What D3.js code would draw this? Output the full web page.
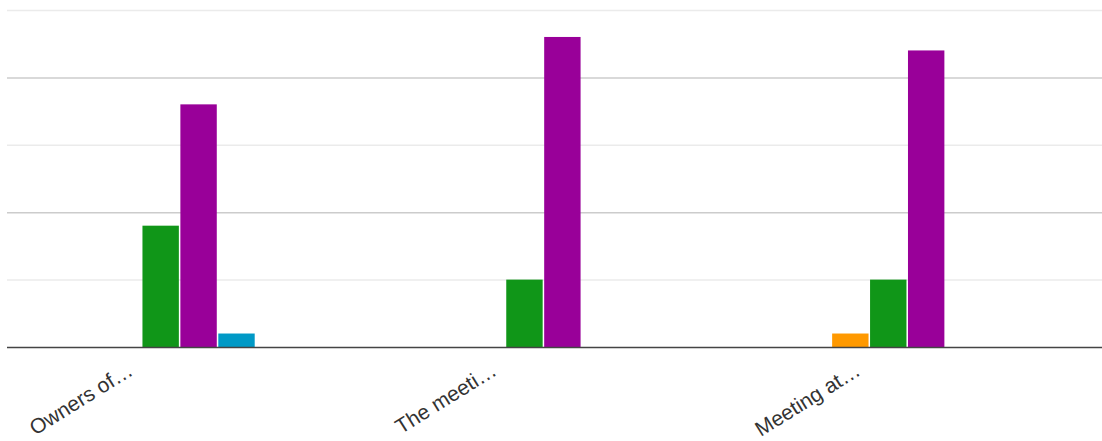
<!DOCTYPE html>
<html>
<head>
<meta charset="utf-8">
<script src="https://cdn.jsdelivr.net/npm/d3@7"></script>
<style>
  html, body { margin: 0; padding: 0; background: #fff; }
  svg { display: block; }
</style>
</head>
<body>
<svg id="chart" width="1102" height="441"></svg>
<script>
// Question rows (truncated as shown on the axis)
const categories = ["Owners of…", "The meeti…", "Meeting at…"];

// Answer options, one series each (count of responses per row)
const seriesNames = ["Option 1", "Option 2", "Option 3", "Option 4", "Option 5", "Option 6"];
const option1 = [0, 0, 0];
const option2 = [0, 0, 0];
const option3 = [0, 0, 1];
const option4 = [9, 5, 5];
const option5 = [18, 23, 22];
const option6 = [1, 0, 0];
const seriesValues = [option1, option2, option3, option4, option5, option6];
const seriesColors = ["#3366cc", "#dc3912", "#ff9900", "#109618", "#990099", "#0099c6"];

// Value axis gridlines
const majorTicks = [0, 10, 20];
const minorTicks = [5, 15, 25];

const svg = d3.select("#chart");
const plot = { left: 7, right: 1102, top: 10, bottom: 347 };

const y = d3.scaleLinear().domain([0, 25]).range([plot.bottom, plot.top]);

// Category centres along the horizontal axis
const x = d3.scalePoint().domain(categories).range([141.7, 869.3]);
const inner = d3.scaleBand().domain(seriesNames).range([-113, 113]).paddingInner(0.04);

// Minor gridlines
svg.append("g").selectAll("line").data(minorTicks).join("line")
  .attr("x1", plot.left).attr("x2", plot.right)
  .attr("y1", d => y(d) + 0.5).attr("y2", d => y(d) + 0.5)
  .attr("stroke", "#ebebeb").attr("stroke-width", 1.5);

// Major gridlines (baseline drawn separately)
svg.append("g").selectAll("line").data(majorTicks.filter(d => d !== 0)).join("line")
  .attr("x1", plot.left).attr("x2", plot.right)
  .attr("y1", d => y(d) + 0.5).attr("y2", d => y(d) + 0.5)
  .attr("stroke", "#cccccc").attr("stroke-width", 1.5);

// Bars
const rows = categories.map((c, i) => ({
  category: c,
  values: seriesNames.map((s, j) => ({ series: s, value: seriesValues[j][i], color: seriesColors[j] }))
}));

svg.append("g").selectAll("g").data(rows).join("g")
  .attr("transform", d => `translate(${x(d.category)},0)`)
  .selectAll("rect").data(d => d.values.filter(v => v.value > 0)).join("rect")
  .attr("x", d => inner(d.series))
  .attr("width", inner.bandwidth())
  .attr("y", d => y(d.value))
  .attr("height", d => y(0) - y(d.value))
  .attr("fill", d => d.color);

// Zero baseline
svg.append("line")
  .attr("x1", plot.left).attr("x2", plot.right)
  .attr("y1", y(0) + 0.5).attr("y2", y(0) + 0.5)
  .attr("stroke", "#444").attr("stroke-width", 1.6);

// Slanted category labels
const xAxis = d3.axisBottom(x).tickSize(0).tickPadding(0);
const gx = svg.append("g").attr("transform", `translate(0,${plot.bottom})`).call(xAxis);
gx.select(".domain").remove();
gx.selectAll(".tick text")
  .attr("font-family", "'Liberation Sans', Arial, sans-serif")
  .attr("font-size", 21)
  .attr("fill", "#333")
  .attr("text-anchor", "end")
  .attr("dy", null)
  .attr("transform", "translate(-8,27) rotate(-32)");
</script>
</body>
</html>
